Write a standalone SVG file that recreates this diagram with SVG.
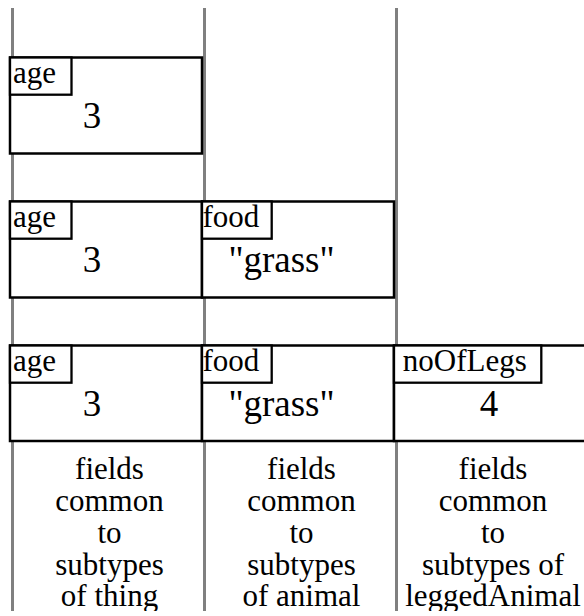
<svg xmlns="http://www.w3.org/2000/svg" width="584" height="616" viewBox="0 0 584 616" font-family="Liberation Serif, DejaVu Serif, serif">
<style>
.div{stroke:#808080;stroke-width:3;fill:none}
.box{fill:#fff;stroke:#000;stroke-width:2.5}
.lbl{fill:#fff;stroke:#000;stroke-width:2.3}
text{font-family:'Liberation Serif','DejaVu Serif',serif;fill:#000}
.lt{font-size:31px}
.vt{font-size:37px;text-anchor:middle}
.bt{font-size:31px;text-anchor:middle}
</style>
<defs>
<clipPath id="clip"><rect x="0" y="0" width="584" height="611"/></clipPath>
</defs>
<rect width="584" height="616" fill="#fff"/>
<g clip-path="url(#clip)">
<g id="dividers">
<line class="div" x1="12.5" y1="8" x2="12.5" y2="611"/>
<line class="div" x1="204.5" y1="8" x2="204.5" y2="611"/>
<line class="div" x1="396.5" y1="8" x2="396.5" y2="611"/>
</g>
<g id="row1-age">
<rect class="box" x="10" y="57.5" width="192" height="96"/>
<rect class="lbl" x="10" y="57.5" width="61.5" height="37.2"/>
<text class="lt" x="13" y="82.8">age</text>
<text class="vt" x="92" y="128">3</text>
</g>
<g id="row2-age">
<rect class="box" x="10" y="201.5" width="192" height="96"/>
<rect class="lbl" x="10" y="201.5" width="61.5" height="37.2"/>
<text class="lt" x="13" y="226.8">age</text>
<text class="vt" x="92" y="272">3</text>
</g>
<g id="row2-food">
<rect class="box" x="202" y="201.5" width="192" height="96"/>
<rect class="lbl" x="202" y="201.5" width="69.7" height="37.2"/>
<text class="lt" x="202.5" y="226.8">food</text>
<text class="vt" x="281.5" y="272">"grass"</text>
</g>
<g id="row3-age">
<rect class="box" x="10" y="345.5" width="192" height="95.5"/>
<rect class="lbl" x="10" y="345.5" width="61.5" height="37.2"/>
<text class="lt" x="13" y="370.8">age</text>
<text class="vt" x="92" y="416">3</text>
</g>
<g id="row3-food">
<rect class="box" x="202" y="345.5" width="192" height="95.5"/>
<rect class="lbl" x="202" y="345.5" width="69.7" height="37.2"/>
<text class="lt" x="202.5" y="370.8">food</text>
<text class="vt" x="281.5" y="416">"grass"</text>
</g>
<g id="row3-noOfLegs">
<rect class="box" x="394" y="345.5" width="200" height="95.5"/>
<rect class="lbl" x="394" y="345.5" width="147.3" height="37.2"/>
<text class="lt" x="402.8" y="370.8">noOfLegs</text>
<text class="vt" x="489" y="416">4</text>
</g>
<g id="caption-thing">
<text class="bt" x="109.5" y="478.5">fields</text>
<text class="bt" x="109.5" y="510.5">common</text>
<text class="bt" x="109.5" y="542.5">to</text>
<text class="bt" x="109.5" y="574.5">subtypes</text>
<text class="bt" x="109.5" y="606">of thing</text>
</g>
<g id="caption-animal">
<text class="bt" x="301.5" y="478.5">fields</text>
<text class="bt" x="301.5" y="510.5">common</text>
<text class="bt" x="301.5" y="542.5">to</text>
<text class="bt" x="301.5" y="574.5">subtypes</text>
<text class="bt" x="301.5" y="606">of animal</text>
</g>
<g id="caption-leggedAnimal">
<text class="bt" x="493" y="478.5">fields</text>
<text class="bt" x="493" y="510.5">common</text>
<text class="bt" x="493" y="542.5">to</text>
<text class="bt" x="493" y="574.5">subtypes of</text>
<text class="bt" x="493" y="606">leggedAnimal</text>
</g>
</g>
</svg>
